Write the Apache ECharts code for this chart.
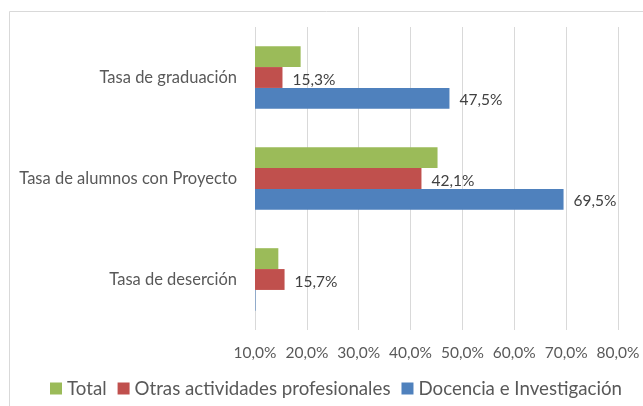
<!DOCTYPE html>
<html>
<head>
<meta charset="utf-8">
<script src="https://cdn.jsdelivr.net/npm/echarts@6/dist/echarts.min.js"></script>
<style>
  html, body { margin: 0; padding: 0; background: #fff; }
  #main { width: 643px; height: 406px; }
</style>
</head>
<body>
<div id="main"></div>
<script>
var chartDom = document.getElementById('main');
var myChart = echarts.init(chartDom);
var option;

// categorias (de arriba a abajo)
const categorias = ['Tasa de graduación', 'Tasa de alumnos con Proyecto', 'Tasa de deserción'];
// valores en %
const total = [18.8, 45.2, 14.5];
const otras = [15.3, 42.1, 15.7];
const docencia = [47.5, 69.5, 10.1];
const ticksX = [10, 20, 30, 40, 50, 60, 70, 80];

const fuente = 'Lato, "Noto Sans", sans-serif';

// etiqueta con coma decimal
const pct = v => v.toFixed(1).replace('.', ',') + '%';

// los valores pegados al eje no llevan etiqueta
const conEtiqueta = arr => arr.map(v => ({
  value: v,
  label: { show: v > 11 }
}));

const etiqueta = {
  position: 'right',
  distance: 10,
  offset: [0, 2],
  color: '#404040',
  fontFamily: fuente,
  fontSize: 15.5,
  formatter: p => pct(p.value)
};

option = {
  animation: false,
  textStyle: { fontFamily: fuente },
  graphic: [{
    type: 'rect',
    shape: { x: 9.5, y: 11.5, width: 700, height: 500 },
    style: { fill: 'none', stroke: '#d9d9d9', lineWidth: 1 },
    silent: true
  }],
  legend: {
    data: ['Total', 'Otras actividades profesionales', 'Docencia e Investigación'],
    left: 45,
    top: 374,
    icon: 'rect',
    itemWidth: 12,
    itemHeight: 12,
    itemGap: 11,
    textStyle: { color: '#595959', fontSize: 18.7, fontFamily: fuente }
  },
  grid: { left: 255, right: 25, top: 27, bottom: 76 },
  xAxis: {
    type: 'value',
    min: ticksX[0],
    max: ticksX[ticksX.length - 1],
    interval: 10,
    axisLine: { show: false },
    axisTick: { show: false },
    splitLine: { lineStyle: { color: '#d9d9d9' } },
    axisLabel: {
      margin: 15,
      color: '#595959',
      fontSize: 15.5,
      fontFamily: fuente,
      formatter: v => pct(v)
    }
  },
  yAxis: {
    type: 'category',
    inverse: true,
    data: categorias,
    axisLine: { show: false },
    axisTick: { show: false },
    axisLabel: { margin: 18, color: '#595959', fontSize: 16.5, fontFamily: fuente }
  },
  series: [
    {
      name: 'Total', type: 'bar', data: total,
      barGap: '0%', barCategoryGap: '38%',
      itemStyle: { color: '#9BBB59' }
    },
    {
      name: 'Otras actividades profesionales', type: 'bar', data: conEtiqueta(otras),
      barGap: '0%', barCategoryGap: '38%',
      itemStyle: { color: '#C0504D' },
      label: etiqueta
    },
    {
      name: 'Docencia e Investigación', type: 'bar', data: conEtiqueta(docencia),
      barGap: '0%', barCategoryGap: '38%',
      itemStyle: { color: '#4F81BD' },
      label: etiqueta
    }
  ]
};

option && myChart.setOption(option);
</script>
</body>
</html>
